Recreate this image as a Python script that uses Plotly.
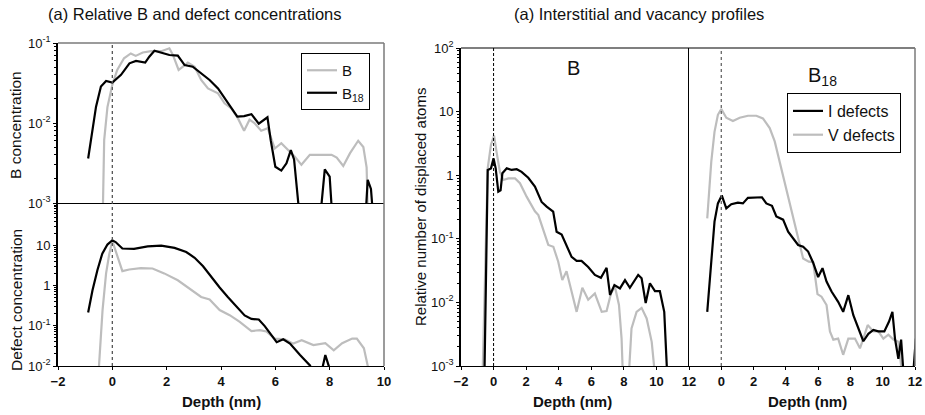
import plotly.graph_objects as go

# ---------------- data ----------------
# Left panel, top: relative B concentration
b_top_x = [-0.36, -0.30, -0.18, 0.0, 0.18, 0.43, 0.68, 0.86, 1.12, 1.43, 1.80, 2.10, 2.23, 2.44, 2.60, 2.78,
           3.03, 3.27, 3.52, 3.89, 4.13, 4.38, 4.62, 4.85, 5.05, 5.23, 5.48, 5.72, 5.98, 6.22, 6.47, 6.72,
           6.96, 7.27, 7.70, 8.07, 8.26, 8.50, 8.75, 9.05, 9.24, 9.36, 9.42]
b_top_y = [0.0005, 0.0061, 0.0158, 0.030, 0.046, 0.0645, 0.074, 0.069, 0.076, 0.079, 0.079, 0.0858, 0.071, 0.046,
           0.0506, 0.0568, 0.0506, 0.0345, 0.027, 0.0235, 0.0176, 0.0152, 0.0115, 0.0080, 0.011, 0.010, 0.0080,
           0.0086, 0.0048, 0.0056, 0.0046, 0.0038, 0.0030, 0.0040, 0.0040, 0.0040, 0.0037, 0.0029, 0.0042,
           0.0060, 0.0050, 0.0028, 0.0005]
b18_top_x = [-0.89, -0.60, -0.42, -0.23, 0.0, 0.32, 0.63, 0.87, 1.21, 1.36, 1.55, 1.80, 2.10, 2.41, 2.66, 2.96,
             3.27, 3.58, 3.89, 4.25, 4.60, 4.85, 5.12, 5.39, 5.55, 5.71, 5.83, 6.00, 6.22, 6.41, 6.57, 6.69,
             6.93, 7.62, 7.82, 8.00, 8.12, 9.30, 9.40, 9.52, 9.63]
b18_top_y = [0.0036, 0.016, 0.0285, 0.0335, 0.032, 0.040, 0.0557, 0.0596, 0.0568, 0.0674, 0.080, 0.076, 0.0708,
             0.0695, 0.053, 0.0506, 0.0418, 0.0345, 0.027, 0.0176, 0.012, 0.0122, 0.0129, 0.0098, 0.0107, 0.0118,
             0.0061, 0.00284, 0.00254, 0.00313, 0.00459, 0.0035, 0.0005, 0.0005, 0.00263, 0.00214, 0.0005,
             0.0005, 0.00195, 0.0015, 0.0005]

# Left panel, bottom: defect concentration
b_def_x = [-0.52, -0.36, -0.23, -0.11, 0.0, 0.18, 0.37, 0.62, 1.05, 1.48, 1.91, 2.41, 2.90, 3.27, 3.58, 3.95,
           4.32, 4.69, 5.12, 5.43, 5.67, 5.98, 6.35, 6.66, 6.97, 7.40, 7.84, 8.15, 8.46, 8.83, 9.00, 9.26, 9.50]
b_def_y = [0.005, 0.245, 2.0, 6.2, 12.8, 5.6, 2.27, 2.5, 2.7, 2.65, 2.0, 1.35, 0.76, 0.52, 0.45, 0.245, 0.183,
           0.125, 0.074, 0.078, 0.072, 0.048, 0.046, 0.036, 0.0437, 0.033, 0.037, 0.0245, 0.037, 0.048, 0.048,
           0.0275, 0.005]
b18_def_x = [-0.89, -0.73, -0.55, -0.37, -0.18, 0.0, 0.12, 0.37, 0.80, 1.30, 1.80, 2.29, 2.72, 3.03, 3.34, 3.64,
             3.95, 4.25, 4.56, 4.87, 5.12, 5.39, 5.61, 5.80, 6.05, 6.29, 6.54, 6.91, 7.28, 7.40, 7.65, 7.84, 8.11]
b18_def_y = [0.214, 0.76, 2.4, 6.2, 10.4, 13.3, 12.0, 8.3, 8.1, 9.4, 9.8, 8.6, 6.8, 4.9, 3.0, 1.6, 0.89, 0.52,
             0.30, 0.18, 0.148, 0.143, 0.098, 0.064, 0.039, 0.046, 0.036, 0.0187, 0.0102, 0.005, 0.005, 0.0187,
             0.005]

# Right panel, B implant: interstitial (I) and vacancy (V) defects
b_i_x = [-0.57, -0.36, -0.16, 0.0, 0.13, 0.29, 0.43, 0.54, 0.81, 1.11, 1.42, 1.72, 2.13, 2.54, 2.95, 3.26, 3.66,
         3.87, 4.18, 4.48, 4.79, 5.10, 5.40, 5.81, 6.22, 6.59, 6.94, 7.15, 7.42, 7.76, 8.07, 8.37, 8.88, 9.09,
         9.34, 9.60, 9.91, 10.21, 10.48, 10.69]
b_i_y = [0.0005, 1.21, 1.28, 1.84, 1.28, 0.55, 0.58, 1.07, 1.28, 1.21, 1.24, 1.13, 0.91, 0.66, 0.38, 0.32, 0.267,
         0.129, 0.117, 0.080, 0.052, 0.045, 0.045, 0.036, 0.027, 0.0244, 0.035, 0.0131, 0.0187, 0.0166, 0.0224,
         0.017, 0.027, 0.024, 0.0098, 0.020, 0.015, 0.015, 0.0071, 0.0005]
b_v_x = [-0.69, -0.36, -0.16, 0.03, 0.18, 0.39, 0.60, 0.91, 1.32, 1.62, 2.03, 2.54, 2.75, 3.06, 3.36, 3.67, 3.97,
         4.22, 4.48, 4.79, 5.10, 5.45, 5.81, 6.22, 6.64, 6.94, 7.21, 7.45, 7.70, 7.86, 7.96, 8.27, 8.47, 8.78,
         9.09, 9.40, 9.71, 9.97]
b_v_y = [0.0005, 1.28, 3.0, 4.2, 2.35, 1.13, 0.84, 0.89, 0.89, 0.75, 0.46, 0.27, 0.236, 0.138, 0.080, 0.075,
         0.0437, 0.0224, 0.031, 0.0148, 0.0071, 0.017, 0.011, 0.0138, 0.0071, 0.0073, 0.0138, 0.0178, 0.0091,
         0.0027, 0.0005, 0.0005, 0.0039, 0.0071, 0.0082, 0.0056, 0.0024, 0.0005]

# Right panel, B18 implant
b18_i_x = [-0.87, -0.62, -0.42, -0.21, 0.03, 0.31, 0.62, 1.03, 1.34, 1.65, 2.07, 2.52, 2.79, 3.14, 3.41, 3.83,
           4.14, 4.45, 4.76, 5.07, 5.38, 5.69, 6.00, 6.27, 6.52, 6.83, 7.24, 7.55, 7.87, 8.18, 8.49, 8.80, 9.11,
           9.42, 9.73, 10.10, 10.39, 10.60, 10.76, 10.97, 11.14, 11.34, 11.84, 12.05]
b18_i_y = [0.0071, 0.0437, 0.186, 0.36, 0.48, 0.30, 0.35, 0.37, 0.36, 0.44, 0.45, 0.45, 0.36, 0.33, 0.224, 0.20,
           0.129, 0.102, 0.080, 0.075, 0.063, 0.042, 0.025, 0.0345, 0.0213, 0.0148, 0.0102, 0.0071, 0.013,
           0.0063, 0.0039, 0.00245, 0.0032, 0.0037, 0.0035, 0.0035, 0.0050, 0.0071, 0.0027, 0.0013, 0.0026,
           0.0005, 0.0005, 0.0027]
b18_v_x = [-0.87, -0.62, -0.42, -0.21, 0.0, 0.31, 0.72, 1.14, 1.65, 2.17, 2.58, 3.00, 3.31, 3.62, 3.93, 4.24,
           4.55, 4.86, 5.07, 5.42, 5.69, 5.96, 6.21, 6.52, 6.73, 6.94, 7.24, 7.55, 7.87, 8.28, 8.59, 8.80, 9.07,
           9.42, 9.73, 10.04, 10.35, 10.66, 10.97, 11.28]
b18_v_y = [0.21, 1.63, 4.8, 8.9, 11.0, 8.0, 7.1, 8.0, 8.6, 8.6, 7.8, 5.5, 3.4, 1.63, 0.745, 0.34, 0.166, 0.080,
           0.049, 0.0437, 0.043, 0.0135, 0.0123, 0.0091, 0.0035, 0.0026, 0.0027, 0.0015, 0.0027, 0.0027, 0.0019,
           0.0027, 0.0044, 0.0035, 0.0035, 0.0027, 0.0031, 0.0026, 0.0024, 0.0005]

depth_ticks_left = [-2, 0, 2, 4, 6, 8, 10]
depth_ticks_right_a = [-2, 0, 2, 4, 6, 8, 10, 12]
depth_ticks_right_b = [0, 2, 4, 6, 8, 10, 12]
top_y_ticks = [0.001, 0.01, 0.1]
top_y_text = ["10<sup>-3</sup>", "10<sup>-2</sup>", "10<sup>-1</sup>"]
bot_y_ticks = [0.01, 0.1, 1, 10]
bot_y_text = ["10<sup>-2</sup>", "10<sup>-1</sup>", "1", "10"]
right_y_ticks = [0.001, 0.01, 0.1, 1, 10, 100]
right_y_text = ["10<sup>-3</sup>", "10<sup>-2</sup>", "10<sup>-1</sup>", "1", "10", "10<sup>2</sup>"]

# ---------------- styling ----------------
W, H = 925, 415
FONT = "Liberation Sans, Arial, sans-serif"
BLACK = "#000000"
GREY = "#bdbdbd"
LW = 2.2


def px_x(p):
    return p / W


def px_y(p):
    return 1 - p / H


fig = go.Figure()

fig.add_trace(go.Scatter(x=b_top_x, y=b_top_y, mode="lines", name="B", line=dict(color=GREY, width=LW),
                         xaxis="x2", yaxis="y2", legend="legend"))
fig.add_trace(go.Scatter(x=b18_top_x, y=b18_top_y, mode="lines", name="B<sub>18</sub>",
                         line=dict(color=BLACK, width=LW), xaxis="x2", yaxis="y2", legend="legend"))
fig.add_trace(go.Scatter(x=b_def_x, y=b_def_y, mode="lines", showlegend=False, line=dict(color=GREY, width=LW),
                         xaxis="x", yaxis="y"))
fig.add_trace(go.Scatter(x=b18_def_x, y=b18_def_y, mode="lines", showlegend=False,
                         line=dict(color=BLACK, width=LW), xaxis="x", yaxis="y"))
fig.add_trace(go.Scatter(x=b_v_x, y=b_v_y, mode="lines", showlegend=False, line=dict(color=GREY, width=LW),
                         xaxis="x3", yaxis="y3"))
fig.add_trace(go.Scatter(x=b_i_x, y=b_i_y, mode="lines", showlegend=False, line=dict(color=BLACK, width=LW),
                         xaxis="x3", yaxis="y3"))
fig.add_trace(go.Scatter(x=b18_v_x, y=b18_v_y, mode="lines", name="V defects", line=dict(color=GREY, width=LW),
                         xaxis="x4", yaxis="y4", legend="legend2", legendrank=2))
fig.add_trace(go.Scatter(x=b18_i_x, y=b18_i_y, mode="lines", name="I defects", line=dict(color=BLACK, width=LW),
                         xaxis="x4", yaxis="y4", legend="legend2", legendrank=1))

xl_dom = [px_x(58), px_x(384)]
xr1_dom = [px_x(461), px_x(689)]
xr2_dom = [px_x(689), px_x(915)]
ybot_dom = [px_y(366), px_y(203)]
ytop_dom = [px_y(203), px_y(43)]
yr_dom = [px_y(366), px_y(48)]

xtickfont = dict(family=FONT, size=13, color="#111", weight="bold")
ytickfont = dict(family=FONT, size=13, color="#111")

common_x = dict(showgrid=False, zeroline=False, showline=True, linecolor=BLACK, linewidth=1.2, automargin=False,
                ticks="outside", ticklen=3, tickcolor=BLACK, tickfont=xtickfont)
common_y = dict(type="log", showgrid=False, zeroline=False, showline=True, linecolor=BLACK, linewidth=1.8,
                automargin=False, ticks="outside", ticklen=3, tickcolor=BLACK, tickfont=ytickfont,
                minor=dict(dtick="D1", ticks="outside", ticklen=2, tickcolor=BLACK, showgrid=False))

fig.update_layout(
    width=W, height=H, margin=dict(l=0, r=0, t=0, b=0, autoexpand=False),
    paper_bgcolor="white", plot_bgcolor="white",
    font=dict(family=FONT, size=14, color="#111"),
    xaxis=dict(domain=xl_dom, anchor="y", range=[-2, 10], tickvals=depth_ticks_left, **common_x),
    yaxis=dict(domain=ybot_dom, anchor="x", range=[-2, 2.05], tickvals=bot_y_ticks, ticktext=bot_y_text,
               **common_y),
    xaxis2=dict(domain=xl_dom, anchor="y2", range=[-2, 10], showgrid=False, zeroline=False, showline=True,
                linecolor=BLACK, linewidth=1.2, showticklabels=False, ticks="", automargin=False),
    yaxis2=dict(domain=ytop_dom, anchor="x2", range=[-3, -1], tickvals=top_y_ticks, ticktext=top_y_text,
                **common_y),
    xaxis3=dict(domain=xr1_dom, anchor="y3", range=[-2, 12], tickvals=depth_ticks_right_a, **common_x),
    yaxis3=dict(domain=yr_dom, anchor="x3", range=[-3, 2], tickvals=right_y_ticks, ticktext=right_y_text,
                **common_y),
    xaxis4=dict(domain=xr2_dom, anchor="y4", range=[-2, 12], tickvals=depth_ticks_right_b, **common_x),
    yaxis4=dict(domain=yr_dom, anchor="x4", type="log", range=[-3, 2], showgrid=False, zeroline=False,
                showline=True, linecolor=BLACK, linewidth=1.2, showticklabels=False, ticks="", automargin=False),
    legend=dict(x=px_x(301), y=px_y(53), xanchor="left", yanchor="top", bgcolor="white",
                bordercolor=BLACK, borderwidth=1, font=dict(family=FONT, size=15, color="#111"),
                tracegroupgap=0, itemwidth=30),
    legend2=dict(x=px_x(787), y=px_y(93), xanchor="left", yanchor="top", bgcolor="white",
                 bordercolor=BLACK, borderwidth=1, font=dict(family=FONT, size=16, color="#111"),
                 tracegroupgap=0, itemwidth=30),
)

shapes = []
frame_grey = "#7a7a7a"
shapes.append(dict(type="line", xref="paper", yref="paper", x0=xl_dom[0], x1=xl_dom[1], y0=ytop_dom[1],
                   y1=ytop_dom[1], line=dict(color=frame_grey, width=1.5)))
shapes.append(dict(type="line", xref="paper", yref="paper", x0=xl_dom[1], x1=xl_dom[1], y0=ybot_dom[0],
                   y1=ytop_dom[1], line=dict(color=frame_grey, width=1.5)))
shapes.append(dict(type="line", xref="paper", yref="paper", x0=xr1_dom[0], x1=xr2_dom[1], y0=yr_dom[1],
                   y1=yr_dom[1], line=dict(color=BLACK, width=1.2)))
shapes.append(dict(type="line", xref="paper", yref="paper", x0=xr2_dom[1], x1=xr2_dom[1], y0=yr_dom[0],
                   y1=yr_dom[1], line=dict(color=frame_grey, width=1.5)))
shapes.append(dict(type="line", xref="x", yref="paper", x0=0, x1=0, y0=ybot_dom[0], y1=ytop_dom[1],
                   line=dict(color="#555", width=1.3, dash="dot")))
shapes.append(dict(type="line", xref="x3", yref="paper", x0=0, x1=0, y0=yr_dom[0], y1=yr_dom[1],
                   line=dict(color=BLACK, width=1, dash="3px,2px")))
shapes.append(dict(type="line", xref="x4", yref="paper", x0=0, x1=0, y0=yr_dom[0], y1=yr_dom[1],
                   line=dict(color="#666", width=1.3, dash="dot")))
fig.update_layout(shapes=shapes)


def label(text, cx, cy, size=15, angle=0, weight="normal"):
    return dict(text=text, x=px_x(cx), y=px_y(cy), xref="paper", yref="paper", showarrow=False,
                xanchor="center", yanchor="middle", textangle=angle,
                font=dict(family=FONT, size=size, color="#111", weight=weight))


ann = [
    label("(a) Relative B and defect concentrations", 195, 14, size=16.5),
    label("(a) Interstitial and vacancy profiles", 639, 14, size=16.5),
    label("B concentration", 16, 125, size=15.5, angle=-90),
    label("Defect concentration", 16, 300, size=15.5, angle=-90),
    label("Relative number of displaced atoms", 420, 207, angle=-90),
    label("Depth (nm)", 221, 401, weight="bold"),
    label("Depth (nm)", 572, 401, weight="bold"),
    label("Depth (nm)", 807, 401, weight="bold"),
    label("B", 573, 68, size=20),
    label("B<sub>18</sub>", 822, 76, size=20),
]
fig.update_layout(annotations=ann)

fig.write_html("out.html", config={"displayModeBar": False},
               post_script="document.body.style.margin='0';document.body.style.padding='0';")
